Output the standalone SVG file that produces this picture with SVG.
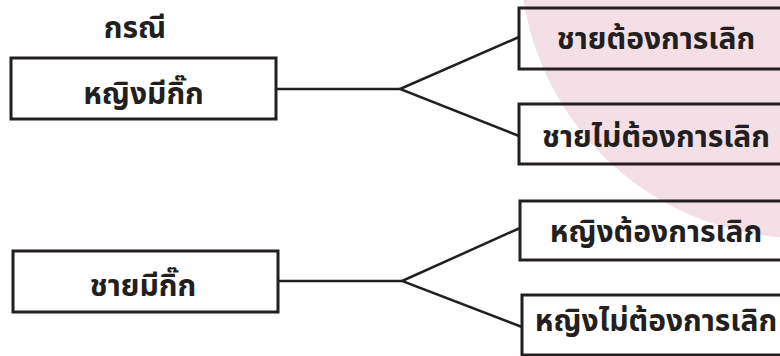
<svg xmlns="http://www.w3.org/2000/svg" width="780" height="356" viewBox="0 0 780 356">
<style>
.box{fill:none;stroke:#231f20;stroke-width:3}
.ln{fill:none;stroke:#231f20;stroke-width:2.5;stroke-linejoin:miter}
.t{font-family:"Noto Sans Thai","Noto Sans","DejaVu Sans",sans-serif;font-weight:bold;font-size:30px;fill:#231f20;text-anchor:middle}
</style>
<rect width="780" height="356" fill="#ffffff"/>
<circle cx="802" cy="-44" r="282" fill="#f4dfe7"/>
<text class="t" x="135" y="38">กรณี</text>
<g id="connectors">
<polyline class="ln" points="277,89 400,89"/>
<polyline class="ln" points="519,37 400,89 519,136"/>
<polyline class="ln" points="278,281 402,281"/>
<polyline class="ln" points="520,228 402,281 522,327"/>
</g>
<g id="n-woman">
<rect class="box" x="11" y="58" width="265" height="61"/>
<text class="t" x="143.5" y="104">หญิงมีกิ๊ก</text>
</g>
<g id="n-man-quit">
<rect class="box" x="519" y="8" width="280" height="61"/>
<text class="t" x="656" y="49">ชายต้องการเลิก</text>
</g>
<g id="n-man-noquit">
<rect class="box" x="519" y="104" width="280" height="60"/>
<text class="t" x="656" y="147">ชายไม่ต้องการเลิก</text>
</g>
<g id="n-man">
<rect class="box" x="13" y="251" width="265" height="61"/>
<text class="t" x="143" y="296">ชายมีกิ๊ก</text>
</g>
<g id="n-woman-quit">
<rect class="box" x="520" y="201" width="280" height="59"/>
<text class="t" x="656" y="242">หญิงต้องการเลิก</text>
</g>
<g id="n-woman-noquit">
<rect class="box" x="522" y="295" width="280" height="60"/>
<text class="t" x="656" y="331">หญิงไม่ต้องการเลิก</text>
</g>
</svg>
